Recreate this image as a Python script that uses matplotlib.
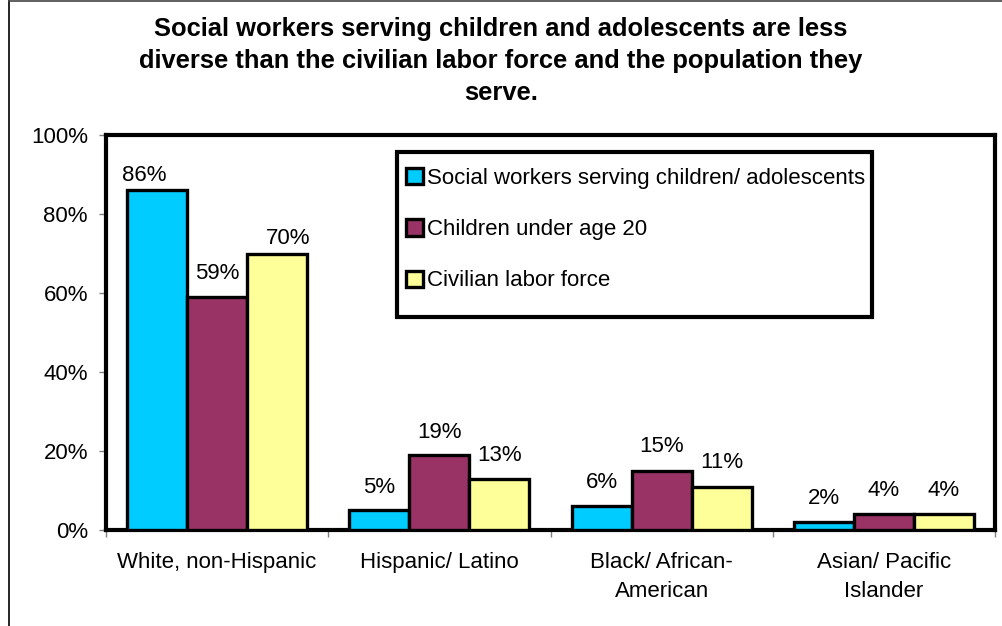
import matplotlib
matplotlib.use("Agg")
import matplotlib.pyplot as plt
import numpy as np
from matplotlib.lines import Line2D
from matplotlib.patches import Patch, Rectangle

categories = ["White, non-Hispanic", "Hispanic/ Latino", "Black/ African-\nAmerican", "Asian/ Pacific\nIslander"]
series_names = ["Social workers serving children/ adolescents", "Children under age 20", "Civilian labor force"]
social_workers = [86, 5, 6, 2]
children = [59, 19, 15, 4]
labor_force = [70, 13, 11, 4]
colors = ["#00CCFF", "#993366", "#FFFF99"]
title = ("Social workers serving children and adolescents are less\n"
         "diverse than the civilian labor force and the population they\n"
         "serve.")
# label offsets (points) per series/category, as placed in the original
label_dx = [[-9, 0, 0, 0], [0, 0, 0, 0], [8, 0, 0, 0]]
label_dy = [[6.5, 12.5, 13, 13], [13, 12.5, 13.5, 13], [6.5, 13, 13.5, 13]]

plt.rcParams['font.family'] = ['Liberation Sans', 'DejaVu Sans']

fig = plt.figure(figsize=(10.02, 6.26), dpi=100)
ax = fig.add_axes([106/1002, 1-530/626, (995-106)/1002, (530-135)/626])

x = np.arange(len(categories))
w = 0.27
series = [social_workers, children, labor_force]
for i, (vals, c) in enumerate(zip(series, colors)):
    bars = ax.bar(x + (i-1)*w, vals, width=w, color=c, edgecolor='black', linewidth=2.4, zorder=3)
    for j, (b, v) in enumerate(zip(bars, vals)):
        ax.annotate(f"{v}%", (b.get_x()+b.get_width()/2, v),
                    xytext=(label_dx[i][j], label_dy[i][j]), textcoords='offset points',
                    ha='center', va='baseline', fontsize=16)

ax.set_xlim(-0.5, 3.5)
ax.set_ylim(0, 100)
ax.set_yticks(np.arange(0, 101, 20))
ax.set_yticklabels([f"{v}%" for v in range(0, 101, 20)], fontsize=16)
ax.set_xticks(x)
ax.set_xticklabels(categories, fontsize=16, linespacing=1.5)
ax.set_xticks(np.arange(-0.5, 4, 1), minor=True)
ax.tick_params(axis='x', which='major', length=0, pad=16)
ax.tick_params(axis='x', which='minor', length=5, width=1, color='#808080', direction='out')
ax.tick_params(axis='y', length=5, width=1, color='#808080', pad=8)
for s in ax.spines.values():
    s.set_linewidth(3)
    s.set_color('black')

# legend box
def ax_xy(px, py):
    return (px-106)/889, (530-py)/395
x0, y1 = ax_xy(397, 152)
x1, y0 = ax_xy(872, 317)
ax.add_patch(Rectangle((x0, y0), x1-x0, y1-y0, transform=ax.transAxes, facecolor='white',
                       edgecolor='black', linewidth=3, zorder=5, clip_on=False))
handles = [Patch(facecolor=c, edgecolor='black', linewidth=2.4) for c in colors]
lx, ly = ax_xy(406, 168)
leg = ax.legend(handles, series_names, loc='upper left', bbox_to_anchor=(lx, ly),
                fontsize=16, frameon=False,
                handlelength=0.75, handleheight=0.75, handletextpad=0.2,
                labelspacing=1.36, borderpad=0, borderaxespad=0)
leg.set_zorder(6)

fig.text(0.5, 1-17/626, title, ha='center', va='top', fontsize=18.4, fontweight='bold', linespacing=1.42)

fig.add_artist(Line2D([9/1002, 9/1002], [0, 1-1/626], color='black', linewidth=1.2, transform=fig.transFigure))
fig.add_artist(Line2D([9/1002, 1], [1-1/626, 1-1/626], color='#444444', linewidth=1.2, transform=fig.transFigure))

fig.savefig("out.png", dpi=100)
